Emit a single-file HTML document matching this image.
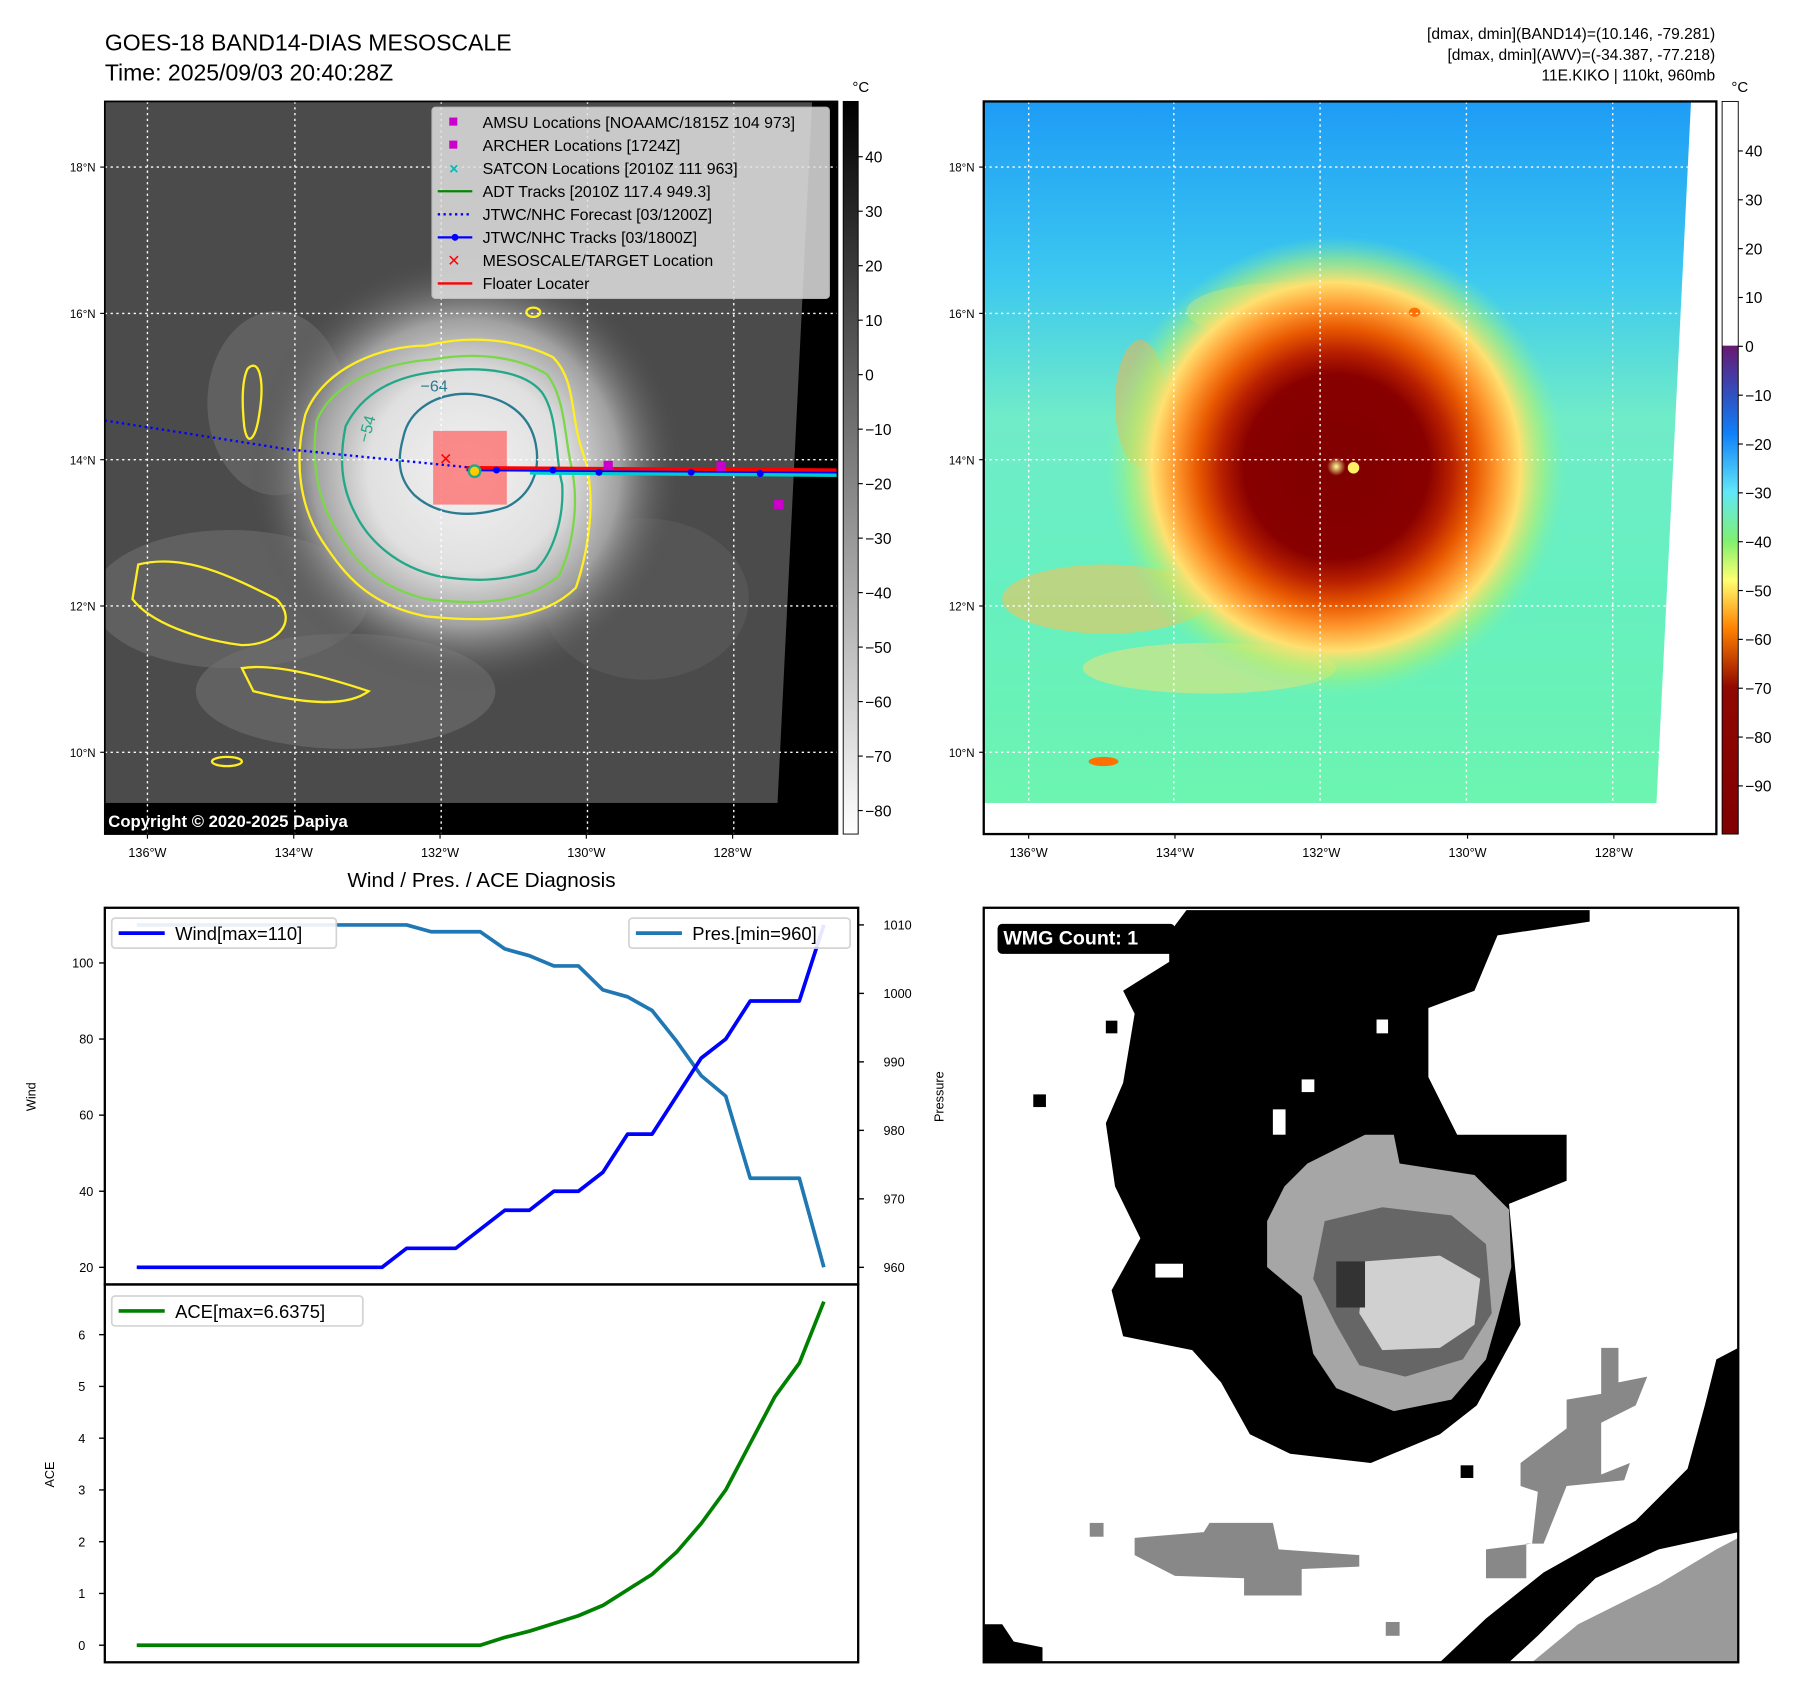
<!DOCTYPE html>
<html><head><meta charset="utf-8">
<style>
html,body{margin:0;padding:0;background:#fff;}
svg{display:block;font-family:"Liberation Sans","DejaVu Sans",sans-serif;}
</style></head>
<body>
<svg id="root" width="1797" height="1690" viewBox="0 0 1560 1467" xmlns="http://www.w3.org/2000/svg">
<defs>
  <radialGradient id="stormL" cx="405" cy="410" r="190" gradientUnits="userSpaceOnUse">
    <stop offset="0" stop-color="#f2f2f2"/>
    <stop offset="0.45" stop-color="#e0e0e0"/>
    <stop offset="0.7" stop-color="#a0a0a0"/>
    <stop offset="1" stop-color="#4a4a4a" stop-opacity="0"/>
  </radialGradient>
  <radialGradient id="stormR" cx="1160" cy="405" r="200" gradientUnits="userSpaceOnUse">
    <stop offset="0" stop-color="#ffff99"/>
    <stop offset="0.04" stop-color="#800000"/>
    <stop offset="0.4" stop-color="#880000"/>
    <stop offset="0.5" stop-color="#b82000"/>
    <stop offset="0.6" stop-color="#e85800"/>
    <stop offset="0.7" stop-color="#ff9a30"/>
    <stop offset="0.8" stop-color="#ffe070"/>
    <stop offset="0.9" stop-color="#b0f070" stop-opacity="0.6"/>
    <stop offset="1" stop-color="#80f0a0" stop-opacity="0"/>
  </radialGradient>
  <linearGradient id="bgR" x1="0" y1="88" x2="0" y2="697" gradientUnits="userSpaceOnUse">
    <stop offset="0" stop-color="#1e9cf5"/>
    <stop offset="0.25" stop-color="#3cc8f0"/>
    <stop offset="0.45" stop-color="#70ecc8"/>
    <stop offset="0.7" stop-color="#66f0c0"/>
    <stop offset="1" stop-color="#6cf4b0"/>
  </linearGradient>
  <linearGradient id="cbL" x1="0" y1="88" x2="0" y2="724" gradientUnits="userSpaceOnUse">
    <stop offset="0" stop-color="#000"/>
    <stop offset="1" stop-color="#fff"/>
  </linearGradient>
  <linearGradient id="cbR" x1="0" y1="300" x2="0" y2="724" gradientUnits="userSpaceOnUse">
    <stop offset="0" stop-color="#6a1870"/>
    <stop offset="0.1" stop-color="#3050c0"/>
    <stop offset="0.18" stop-color="#1080f8"/>
    <stop offset="0.3" stop-color="#60e8f8"/>
    <stop offset="0.4" stop-color="#80f070"/>
    <stop offset="0.48" stop-color="#ffff70"/>
    <stop offset="0.58" stop-color="#ff8000"/>
    <stop offset="0.7" stop-color="#900800"/>
    <stop offset="1" stop-color="#800000"/>
  </linearGradient>
  <clipPath id="clipL"><rect x="91" y="88" width="636" height="636"/></clipPath>
  <clipPath id="clipR"><rect x="854" y="88" width="636" height="636"/></clipPath>
  <clipPath id="clipBR"><rect x="854" y="788" width="655" height="655"/></clipPath>
</defs>

<!-- Titles -->
<text x="91" y="44" font-size="20">GOES-18 BAND14-DIAS MESOSCALE</text>
<text x="91" y="70" font-size="20">Time: 2025/09/03 20:40:28Z</text>
<g font-size="13.5" text-anchor="end">
  <text x="1489" y="34">[dmax, dmin](BAND14)=(10.146, -79.281)</text>
  <text x="1489" y="52">[dmax, dmin](AWV)=(-34.387, -77.218)</text>
  <text x="1489" y="70">11E.KIKO | 110kt, 960mb</text>
</g>

<!-- LEFT MAP -->
<g clip-path="url(#clipL)">
  <rect x="91" y="88" width="636" height="636" fill="#4b4b4b"/>
  <ellipse cx="200" cy="520" rx="120" ry="60" fill="#6a6a6a" opacity="0.7"/>
  <ellipse cx="300" cy="600" rx="130" ry="50" fill="#707070" opacity="0.6"/>
  <ellipse cx="240" cy="350" rx="60" ry="80" fill="#6e6e6e" opacity="0.6"/>
  <ellipse cx="560" cy="520" rx="90" ry="70" fill="#606060" opacity="0.5"/>
  <circle cx="405" cy="410" r="190" fill="url(#stormL)"/>
  <path d="M705,88 L727,88 L727,724 L675,724 L675,697 Z" fill="#000"/>
  <rect x="91" y="697" width="636" height="27" fill="#000"/>
  <!-- contours -->
  <path d="M265,360 C280,320 330,300 370,300 C410,290 450,295 480,310 C500,330 495,360 505,390 C520,430 510,480 500,510 C470,540 420,540 370,535 C320,525 300,500 280,470 C260,440 255,400 265,360 Z" fill="none" stroke="#ffee22" stroke-width="2"/>
  <path d="M275,365 C290,330 335,315 375,312 C415,305 450,310 475,325 C490,345 490,375 495,400 C505,440 495,480 485,500 C455,525 410,525 370,520 C330,510 310,490 295,465 C275,435 270,400 275,365 Z" fill="none" stroke="#7cd64a" stroke-width="2"/>
  <path d="M300,370 C315,340 345,325 385,322 C420,318 455,322 470,340 C485,360 482,400 488,420 C490,450 480,480 465,495 C435,505 410,505 380,500 C345,492 320,470 308,445 C295,420 295,395 300,370 Z" fill="none" stroke="#22a888" stroke-width="2"/>
  <path d="M350,380 C355,355 380,340 410,342 C440,345 460,360 465,385 C470,410 460,430 440,440 C410,450 380,448 360,430 C345,415 345,398 350,380 Z" fill="none" stroke="#2a7a90" stroke-width="2"/>
  <path d="M215,320 C225,310 230,330 225,360 C222,380 215,390 212,370 C210,350 210,330 215,320 Z" fill="none" stroke="#ffee22" stroke-width="2"/>
  <path d="M120,490 C160,480 200,500 240,520 C260,540 240,560 210,560 C170,555 130,540 115,520 Z" fill="none" stroke="#ffee22" stroke-width="2"/>
  <path d="M210,580 C240,575 290,590 320,600 C300,615 260,610 220,600 Z" fill="none" stroke="#ffee22" stroke-width="2"/>
  <ellipse cx="197" cy="661" rx="13" ry="4" fill="none" stroke="#ffee22" stroke-width="2"/>
  <ellipse cx="463" cy="271" rx="6" ry="4" fill="none" stroke="#ffee22" stroke-width="2"/>
  <text x="365" y="340" font-size="14" fill="#2a7a90">−64</text>
  <text x="320" y="385" font-size="14" fill="#22a888" transform="rotate(-75 320 385)">−54</text>
  <!-- grid -->
  <g stroke="#fff" stroke-width="1.2" stroke-dasharray="2,3">
    <line x1="128" y1="88" x2="128" y2="724"/><line x1="256" y1="88" x2="256" y2="724"/><line x1="383" y1="88" x2="383" y2="724"/><line x1="510" y1="88" x2="510" y2="724"/><line x1="637" y1="88" x2="637" y2="724"/>
    <line x1="91" y1="145" x2="727" y2="145"/><line x1="91" y1="272" x2="727" y2="272"/><line x1="91" y1="399" x2="727" y2="399"/><line x1="91" y1="526" x2="727" y2="526"/><line x1="91" y1="653" x2="727" y2="653"/>
  </g>
  <!-- tracks -->
  <rect x="376" y="374" width="64" height="64" fill="#ff6060" opacity="0.7"/>
  <path d="M91,365 L250,390 L410,406" fill="none" stroke="#0000ff" stroke-width="2" stroke-dasharray="2,3"/>
  <path d="M460,410 L727,412" stroke="#00cccc" stroke-width="4"/>
  <path d="M405,407 L727,410" stroke="#008800" stroke-width="2"/>
  <path d="M405,408 L727,410" stroke="#0000ff" stroke-width="2"/>
  <path d="M405,406 L727,408" stroke="#ff0000" stroke-width="3"/>
  <g fill="#0000ff"><circle cx="431" cy="408" r="3"/><circle cx="480" cy="408" r="3"/><circle cx="520" cy="410" r="3"/><circle cx="600" cy="410" r="3"/><circle cx="660" cy="411" r="3"/></g>
  <g fill="#cc00cc"><rect x="524" y="400" width="8" height="8"/><rect x="622" y="401" width="8" height="8"/><rect x="672" y="434" width="8" height="8"/></g>
  <text x="387" y="403" font-size="14" fill="#ff0000" text-anchor="middle">✕</text>
  <circle cx="412" cy="409" r="5" fill="#ffcc00" stroke="#22a888" stroke-width="2"/>
  <!-- legend -->
  <g>
    <rect x="375" y="93" width="345" height="166" rx="3" fill="#e0e0e0" opacity="0.85" stroke="#ccc"/>
    <g font-size="13.8">
      <rect x="390" y="102" width="7" height="7" fill="#cc00cc"/><text x="419" y="111">AMSU Locations [NOAAMC/1815Z 104 973]</text>
      <rect x="390" y="122" width="7" height="7" fill="#cc00cc"/><text x="419" y="131">ARCHER Locations [1724Z]</text>
      <text x="394" y="151" fill="#00bbbb" text-anchor="middle" font-weight="bold">×</text><text x="419" y="151">SATCON Locations [2010Z 111 963]</text>
      <line x1="380" y1="166" x2="410" y2="166" stroke="#008800" stroke-width="2"/><text x="419" y="171">ADT Tracks [2010Z 117.4 949.3]</text>
      <line x1="380" y1="186" x2="410" y2="186" stroke="#0000ff" stroke-width="2" stroke-dasharray="2,3"/><text x="419" y="191">JTWC/NHC Forecast [03/1200Z]</text>
      <line x1="380" y1="206" x2="410" y2="206" stroke="#0000ff" stroke-width="2"/><circle cx="395" cy="206" r="3" fill="#0000ff"/><text x="419" y="211">JTWC/NHC Tracks [03/1800Z]</text>
      <text x="394" y="231" fill="#ff0000" text-anchor="middle" font-weight="bold">✕</text><text x="419" y="231">MESOSCALE/TARGET Location</text>
      <line x1="380" y1="246" x2="410" y2="246" stroke="#ff0000" stroke-width="2"/><text x="419" y="251">Floater Locater</text>
    </g>
  </g>
  <text x="94" y="718" font-size="14.5" font-weight="bold" fill="#fff">Copyright © 2020-2025 Dapiya</text>
</g>
<rect x="91" y="88" width="636" height="636" fill="none" stroke="#000" stroke-width="1.5"/>

<!-- LEFT COLORBAR -->
<g>
  <rect x="732" y="88" width="13" height="636" fill="url(#cbL)" stroke="#000" stroke-width="0.8"/>
  <text x="740" y="80" font-size="13">°C</text>
  <g id="cbLticks" font-size="13.5"></g>
</g>

<!-- RIGHT MAP -->
<g clip-path="url(#clipR)">
  <rect x="854" y="88" width="636" height="636" fill="url(#bgR)"/>
  <ellipse cx="960" cy="520" rx="90" ry="30" fill="#ffc050" opacity="0.55"/>
  <ellipse cx="1050" cy="580" rx="110" ry="22" fill="#ffe070" opacity="0.5"/>
  <ellipse cx="990" cy="350" rx="22" ry="55" fill="#ffb040" opacity="0.5"/>
  <ellipse cx="1120" cy="270" rx="90" ry="25" fill="#ffe070" opacity="0.4"/>
  <circle cx="1160" cy="405" r="200" fill="url(#stormR)"/>
  <circle cx="1175" cy="406" r="5" fill="#ffee66"/>
  <ellipse cx="958" cy="661" rx="13" ry="4" fill="#ff7000"/>
  <ellipse cx="1228" cy="271" rx="5" ry="4" fill="#ff7000"/>
  <path d="M1468,88 L1490,88 L1490,724 L1438,724 L1438,697 Z" fill="#fff"/>
  <rect x="854" y="697" width="636" height="27" fill="#fff"/>
  <g stroke="#fff" stroke-width="1.2" stroke-dasharray="2,3">
    <line x1="893" y1="88" x2="893" y2="724"/><line x1="1019" y1="88" x2="1019" y2="724"/><line x1="1146" y1="88" x2="1146" y2="724"/><line x1="1273" y1="88" x2="1273" y2="724"/><line x1="1400" y1="88" x2="1400" y2="724"/>
    <line x1="854" y1="145" x2="1490" y2="145"/><line x1="854" y1="272" x2="1490" y2="272"/><line x1="854" y1="399" x2="1490" y2="399"/><line x1="854" y1="526" x2="1490" y2="526"/><line x1="854" y1="653" x2="1490" y2="653"/>
  </g>
</g>
<rect x="854" y="88" width="636" height="636" fill="none" stroke="#000" stroke-width="2"/>

<!-- RIGHT COLORBAR -->
<g>
  <rect x="1495" y="88" width="14" height="212" fill="#fff"/>
  <rect x="1495" y="300" width="14" height="424" fill="url(#cbR)"/>
  <rect x="1495" y="88" width="14" height="636" fill="none" stroke="#000" stroke-width="0.8"/>
  <text x="1503" y="80" font-size="13">°C</text>
  <g id="cbRticks" font-size="13.5"></g>
</g>

<!-- Map axis labels -->
<g id="mapLabels" font-size="11"></g>

<!-- BOTTOM LEFT CHART -->
<text x="418" y="770" font-size="18" text-anchor="middle">Wind / Pres. / ACE Diagnosis</text>
<g id="chart"></g>

<!-- BOTTOM RIGHT -->
<g clip-path="url(#clipBR)">
  <rect x="854" y="788" width="655" height="655" fill="#fff"/>
  <path d="M1030,790 L1380,790 L1380,800 L1300,812 L1280,860 L1240,875 L1240,935 L1265,985 L1360,985 L1360,1025 L1310,1045 L1320,1150 L1282,1220 L1250,1245 L1190,1270 L1120,1262 L1085,1245 L1060,1200 L1035,1172 L975,1160 L965,1120 L990,1075 L968,1030 L960,975 L975,940 L985,880 L975,860 L1015,835 L1015,810 Z" fill="#000"/>
  <path d="M1135,1010 L1185,985 L1210,985 L1215,1010 L1280,1020 L1310,1050 L1312,1100 L1300,1145 L1290,1180 L1260,1215 L1210,1225 L1160,1205 L1140,1175 L1130,1125 L1100,1100 L1100,1060 L1115,1030 Z" fill="#a6a6a6"/>
  <path d="M1150,1060 L1200,1048 L1260,1055 L1290,1080 L1295,1140 L1270,1180 L1220,1195 L1180,1185 L1160,1150 L1140,1110 Z" fill="#666"/>
  <path d="M1185,1095 L1250,1090 L1285,1110 L1280,1150 L1250,1170 L1200,1172 L1180,1140 Z" fill="#d0d0d0"/>
  <rect x="1160" y="1095" width="25" height="40" fill="#333"/>
  <path d="M1490,1180 L1509,1170 L1509,1330 L1440,1345 L1385,1370 L1335,1420 L1310,1443 L1250,1443 L1290,1405 L1340,1365 L1420,1320 L1465,1275 L1480,1220 Z" fill="#000"/>
  <path d="M1509,1335 L1509,1443 L1330,1443 L1370,1410 L1440,1375 L1490,1345 Z" fill="#9a9a9a"/>
  <path d="M985,1335 L1045,1330 L1050,1322 L1105,1322 L1110,1345 L1180,1350 L1180,1360 L1130,1362 L1130,1385 L1080,1385 L1080,1370 L1020,1368 L985,1350 Z" fill="#888"/>
  <path d="M1320,1270 L1360,1240 L1360,1215 L1390,1210 L1390,1170 L1405,1170 L1405,1200 L1430,1195 L1420,1220 L1390,1235 L1390,1280 L1415,1270 L1410,1285 L1360,1290 L1340,1340 L1325,1340 L1325,1370 L1290,1370 L1290,1345 L1330,1340 L1335,1295 L1320,1290 Z" fill="#888"/>
  <path d="M854,1410 L870,1410 L880,1425 L905,1430 L905,1443 L854,1443 Z" fill="#000"/>
  <rect x="1195" y="885" width="10" height="12" fill="#fff"/><rect x="1130" y="937" width="11" height="11" fill="#fff"/><rect x="1105" y="963" width="11" height="22" fill="#fff"/>
  <rect x="897" y="950" width="11" height="11" fill="#000"/><rect x="960" y="886" width="10" height="11" fill="#000"/><rect x="1268" y="1272" width="11" height="11" fill="#000"/>
  <rect x="1003" y="1097" width="24" height="12" fill="#fff"/>
  <rect x="946" y="1322" width="12" height="12" fill="#888"/><rect x="1203" y="1408" width="12" height="12" fill="#888"/>
  <rect x="866" y="802" width="154" height="26" rx="4" fill="#000"/>
  <text x="871" y="820" font-size="17" font-weight="bold" fill="#fff">WMG Count: 1</text>
</g>
<rect x="854" y="788" width="655" height="655" fill="none" stroke="#000" stroke-width="2"/>

<script>
// ===== Diagnosis chart data =====
const wind = [20,20,20,20,20,20,20,20,20,20,20,25,25,25,30,35,35,40,40,45,55,55,65,75,80,90,90,90,110];
const pres = [1010,1010,1010,1010,1010,1010,1010,1010,1010,1010,1010,1010,1009,1009,1009,1006.5,1005.5,1004,1004,1000.5,999.5,997.5,993,988,985,973,973,973,960];
const ace = [0,0,0,0,0,0,0,0,0,0,0,0,0,0,0,0.15,0.27,0.42,0.57,0.77,1.07,1.37,1.8,2.35,3.0,3.9,4.8,5.45,6.6375];
const windTicks = [20,40,60,80,100];
const presTicks = [960,970,980,990,1000,1010];
const aceTicks = [0,1,2,3,4,5,6];
const cbLTicks = [40,30,20,10,0,-10,-20,-30,-40,-50,-60,-70,-80];
const cbRTicks = [40,30,20,10,0,-10,-20,-30,-40,-50,-60,-70,-80,-90];
const lonLabelsL = ["136°W","134°W","132°W","130°W","128°W"];
const latLabels = ["18°N","16°N","14°N","12°N","10°N"];

const NS = "http://www.w3.org/2000/svg";
function mk(tag, attrs, parent, txt){
  const e = document.createElementNS(NS, tag);
  for (const k in attrs) e.setAttribute(k, attrs[k]);
  if (txt !== undefined) e.textContent = txt;
  parent.appendChild(e); return e;
}
const L=91, R=745, T1=788, B1=1115, T2=1115, B2=1443;
const xS = i => L + (i + 1.3) * (R - L) / 30.7;
const yW = v => B1 - (v - 15.5) * (B1 - T1) / (114.5 - 15.5);
const yP = v => B1 - (v - 957.5) * (B1 - T1) / (1012.5 - 957.5);
const yA = v => B2 - (v + 0.33) * (B2 - T2) / (6.97 + 0.33);
const ch = document.getElementById('chart');

const fr1 = mk('rect', {x:L,y:T1,width:R-L,height:B1-T1,fill:'none',stroke:'#000','stroke-width':2}, ch);


const fr2 = mk('rect', {x:L,y:T2,width:R-L,height:B2-T2,fill:'none',stroke:'#000','stroke-width':2}, ch);



windTicks.forEach(v => {
  mk('line',{x1:L-5,x2:L,y1:yW(v),y2:yW(v),stroke:'#000','stroke-width':1.2},ch);
  const t = mk('text',{x:L-10,y:yW(v)+4,'font-size':11,'text-anchor':'end'},ch,String(v));
  
  
});
presTicks.forEach(v => {
  mk('line',{x1:R,x2:R+5,y1:yP(v),y2:yP(v),stroke:'#000','stroke-width':1.2},ch);
  const t = mk('text',{x:R+22,y:yP(v)+4,'font-size':11},ch,String(v));
  
  
});
aceTicks.forEach(v => {
  mk('line',{x1:L-5,x2:L,y1:yA(v),y2:yA(v),stroke:'#000','stroke-width':1.2},ch);
  const t = mk('text',{x:L-17,y:yA(v)+4,'font-size':11,'text-anchor':'end'},ch,String(v));
  
  
});
const yl1 = mk('text',{x:31,y:952,'font-size':11,'text-anchor':'middle',transform:'rotate(-90 31 952)'},ch,'Wind');


const yl2 = mk('text',{x:819,y:952,'font-size':11,'text-anchor':'middle',transform:'rotate(-90 819 952)'},ch,'Pressure');


const yl3 = mk('text',{x:47,y:1280,'font-size':11,'text-anchor':'middle',transform:'rotate(-90 47 1280)'},ch,'ACE');



function poly(arr, yf, color, name){
  const d = arr.map((v,i)=>(i?'L':'M')+xS(i).toFixed(1)+','+yf(v).toFixed(1)).join(' ');
  const p = mk('path',{d:d,fill:'none',stroke:color,'stroke-width':3.2,'stroke-linejoin':'round'},ch);
  
  
}
poly(pres, yP, '#1f77b4', 'pressure-line');
poly(wind, yW, '#0000ff', 'wind-line');
poly(ace, yA, '#008000', 'ace-line');

function legend(x,y,w,color,label,name){
  const g = mk('g',{},ch);
  
  
  mk('rect',{x:x,y:y,width:w,height:26,rx:3,fill:'#fff',stroke:'#d0d0d0','stroke-width':1.5,opacity:0.9},g);
  mk('line',{x1:x+6,x2:x+46,y1:y+13,y2:y+13,stroke:color,'stroke-width':3.2},g);
  mk('text',{x:x+55,y:y+19,'font-size':16},g,label);
}
legend(97,797,195,'#0000ff','Wind[max=110]','wind-legend');
legend(546,797,192,'#1f77b4','Pres.[min=960]','pressure-legend');
legend(97,1125,218,'#008000','ACE[max=6.6375]','ace-legend');

// colorbars
const cl = document.getElementById('cbLticks');
cbLTicks.forEach(v => {
  const y = 136 + (40 - v) * 4.73;
  mk('line',{x1:745,x2:749,y1:y,y2:y,stroke:'#000'},cl);
  const t = mk('text',{x:751,y:y+5},cl,v<0?'−'+(-v):String(v));
  
  
});
const cr = document.getElementById('cbRticks');
cbRTicks.forEach(v => {
  const y = 131 + (40 - v) * 4.24;
  mk('line',{x1:1509,x2:1513,y1:y,y2:y,stroke:'#000'},cr);
  const t = mk('text',{x:1515,y:y+5},cr,v<0?'−'+(-v):String(v));
  
  
});

// map labels
const ml = document.getElementById('mapLabels');
lonLabelsL.forEach((s,i) => {
  [128, 893].forEach(x0 => {
    const x = x0 + i * 127;
    mk('line',{x1:x,x2:x,y1:724,y2:728,stroke:'#000'},ml);
    const t = mk('text',{x:x,y:744,'text-anchor':'middle'},ml,s);
    
    
  });
});
latLabels.forEach((s,i) => {
  const y = 145 + i * 127;
  [91, 854].forEach(x0 => {
    mk('line',{x1:x0-4,x2:x0,y1:y,y2:y,stroke:'#000'},ml);
    const t = mk('text',{x:x0-8,y:y+4,'text-anchor':'end','font-size':10},ml,s);
    
    
  });
});
</script>
</svg>
</body></html>
